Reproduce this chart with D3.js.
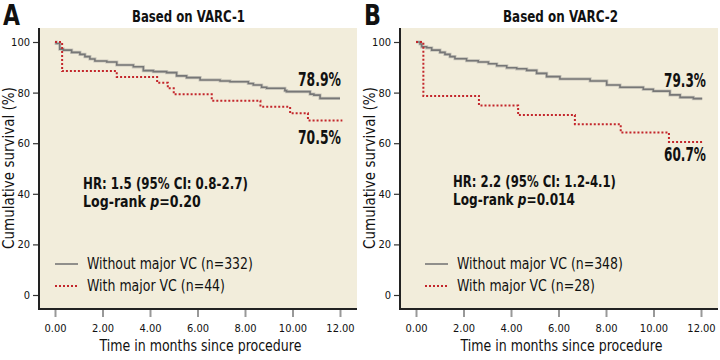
<!DOCTYPE html>
<html><head><meta charset="utf-8">
<script src="https://cdn.jsdelivr.net/npm/d3@7"></script>
<style>
body{margin:0;background:#fff;}
svg text{font-family:"Liberation Sans Narrow","DejaVu Sans Condensed","Roboto Condensed","Liberation Sans",sans-serif;font-stretch:condensed;}
</style></head>
<body><svg id="c" width="720" height="360"></svg>
<script>
// ---- data ----
const timeTicks = [0, 2, 4, 6, 8, 10, 12];
const survTicks = [0, 20, 40, 60, 80, 100];
const panelLetters = ["A", "B"];
const panelTitles = ["Based on VARC-1", "Based on VARC-2"];
const seriesNames = ["Without major VC", "With major VC"];
const groupN = [[332, 44], [348, 28]];
const endLabels = [["78.9%", "70.5%"], ["79.3%", "60.7%"]];
const hrText = ["HR: 1.5 (95% CI: 0.8-2.7)", "HR: 2.2 (95% CI: 1.2-4.1)"];
const pText = ["0.20", "0.014"];

// [time (months), cumulative survival (%)]
const aWithout = [[0,100],[0.05,99.4],[0.2,97.2],[0.35,96.8],[0.7,95.9],[1.05,95.1],[1.26,94.2],[1.47,93.3],[1.68,92.5],[2.18,92.1],[2.6,90.9],[3.3,90.2],[3.72,88.7],[4.14,88.3],[4.7,87.9],[5.12,86.6],[5.54,85.9],[6.11,85.0],[6.95,84.6],[7.37,84.3],[8.14,83.6],[8.35,83.0],[8.7,82.1],[8.91,81.7],[9.68,80.8],[9.75,80.4],[10.74,79.4],[10.9,79.0],[11.16,77.7],[12,77.7]];
const aWith = [[0,100],[0.3,88.5],[2.6,86.2],[4.3,83.9],[4.75,81.7],[5.0,79.3],[6.6,76.8],[8.65,74.4],[9.9,71.8],[10.65,69.0],[12.1,69.0]];
const bWithout = [[0,100],[0.17,99.2],[0.24,98.1],[0.45,97.7],[0.66,96.8],[1.01,95.9],[1.22,95.1],[1.43,94.2],[1.64,93.4],[2.13,92.6],[2.62,92.1],[3.05,91.4],[3.4,90.6],[3.82,89.8],[4.24,89.4],[4.66,88.8],[5.08,87.6],[5.5,86.3],[6.06,85.4],[7.33,84.6],[8.03,83.0],[8.59,82.1],[9.57,81.3],[9.99,80.6],[10.69,79.1],[11.12,78.1],[11.68,77.6],[12.05,77.6]];
const bWith = [[0,100],[0.31,78.7],[2.65,74.9],[4.3,71.1],[6.69,67.5],[8.62,64.2],[10.65,60.5],[12.05,60.5]];
const panelSeries = [[aWithout, aWith], [bWithout, bWith]];

// ---- layout ----
const svg = d3.select("#c");
const panels = [
  {left: 39, right: 357, top: 28, bottom: 309, x0: 55, x1: 340,
   titleX: 132, titleW: 113, endX: 298, endW: 43, hrX: 83, hrY: 189, hrW: 165, lrW: 118, legX: 55},
  {left: 400, right: 718, top: 28, bottom: 309, x0: 416, x1: 701,
   titleX: 503, titleW: 115, endX: 664, endW: 42, hrX: 453, hrY: 187, hrW: 163, lrW: 122, legX: 425}
];
const endY = [[86, 144], [87, 161]];
const bg = "#f2eddb";
const greyCol = "#777777";
const redCol = "#c3262b";

// text squeezed horizontally to a target width (condensed look)
function condText(parent, x, y, size, weight, width, build) {
  const g = parent.append("g");
  const t = g.append("text").attr("x", 0).attr("y", 0).attr("font-size", size)
    .attr("font-weight", weight).attr("fill", "#111");
  build(t);
  const natural = t.node().getComputedTextLength();
  const sx = Math.min(1, width / natural);
  g.attr("transform", `translate(${x},${y}) scale(${sx},1)`);
  return g;
}

panels.forEach((p, i) => {
  const g = svg.append("g");
  const x = d3.scaleLinear().domain([0, 12]).range([p.x0, p.x1]);
  const y = d3.scaleLinear().domain([0, 100]).range([295, 42]);

  g.append("rect").attr("x", p.left).attr("y", p.top)
    .attr("width", p.right - p.left).attr("height", p.bottom - p.top).attr("fill", bg);

  // y axis
  const ya = g.append("g").attr("transform", `translate(${p.left},0)`)
    .call(d3.axisLeft(y).tickValues(survTicks).tickSize(6).tickPadding(3).tickFormat(d3.format("d")));
  ya.select(".domain").remove();
  ya.selectAll(".tick line").attr("stroke", "#333").attr("stroke-width", 1.2);
  ya.selectAll(".tick text").attr("font-size", 11).attr("fill", "#111");

  // x axis
  const xa = g.append("g").attr("transform", `translate(0,${p.bottom + 1})`)
    .call(d3.axisBottom(x).tickValues(timeTicks).tickSize(7).tickPadding(7).tickFormat(d3.format(".2f")));
  xa.select(".domain").remove();
  xa.selectAll(".tick line").attr("stroke", "#999").attr("stroke-width", 2);
  xa.selectAll(".tick text").attr("font-size", 11).attr("fill", "#111");

  // axis lines
  g.append("line").attr("x1", p.left).attr("x2", p.left).attr("y1", p.top).attr("y2", p.bottom + 1)
    .attr("stroke", "#222").attr("stroke-width", 2);
  g.append("line").attr("x1", p.left - 1).attr("x2", p.right).attr("y1", p.bottom).attr("y2", p.bottom)
    .attr("stroke", "#222").attr("stroke-width", 2);

  const line = d3.line().x(d => x(d[0])).y(d => y(d[1])).curve(d3.curveStepAfter);
  const [sw, sr] = panelSeries[i];
  g.append("path").attr("d", line(sw)).attr("fill", "none").attr("stroke", "#c9c6bb").attr("stroke-width", 3.2);
  g.append("path").attr("d", line(sw)).attr("fill", "none").attr("stroke", greyCol).attr("stroke-width", 1.6);
  g.append("path").attr("d", line(sr)).attr("fill", "none").attr("stroke", redCol).attr("stroke-width", 2)
    .attr("stroke-dasharray", "2,2");

  // panel letter & title
  condText(g, p.left - 36, 25, 28, "bold", 17, t => t.text(panelLetters[i]));
  condText(g, p.titleX, 22, 15, "bold", p.titleW, t => t.text(panelTitles[i]));

  // end labels
  [0, 1].forEach(k => {
    condText(g, p.endX, endY[i][k], 19, "bold", p.endW, t => t.text(endLabels[i][k]));
  });

  // HR text
  condText(g, p.hrX, p.hrY, 15.5, "bold", p.hrW, t => t.text(hrText[i]));
  condText(g, p.hrX, p.hrY + 18, 15.5, "bold", p.lrW, t => {
    t.append("tspan").text("Log-rank ");
    t.append("tspan").attr("font-style", "italic").text("p");
    t.append("tspan").text("=" + pText[i]);
  });

  // legend
  [0, 1].forEach(k => {
    const ly = 264 + k * 22;
    g.append("line").attr("x1", p.legX).attr("x2", p.legX + 23).attr("y1", ly).attr("y2", ly)
      .attr("stroke", k === 0 ? greyCol : redCol).attr("stroke-width", k === 0 ? 1.6 : 2)
      .attr("stroke-dasharray", k === 0 ? null : "2,2");
    condText(g, p.legX + 32, ly + 5, 15, "normal", k === 0 ? 166 : 138,
      t => t.text(`${seriesNames[k]} (n=${groupN[i][k]})`));
  });

  // axis titles
  condText(g, (p.x0 + p.x1) / 2 + 3 - 101, 351, 16, "normal", 202, t => t.text("Time in months since procedure"));
  g.append("text").attr("transform", `translate(${p.left - 25},168) rotate(-90)`).attr("text-anchor", "middle")
    .attr("font-size", 15).attr("fill", "#111").text("Cumulative survival (%)");
});
</script></body></html>
